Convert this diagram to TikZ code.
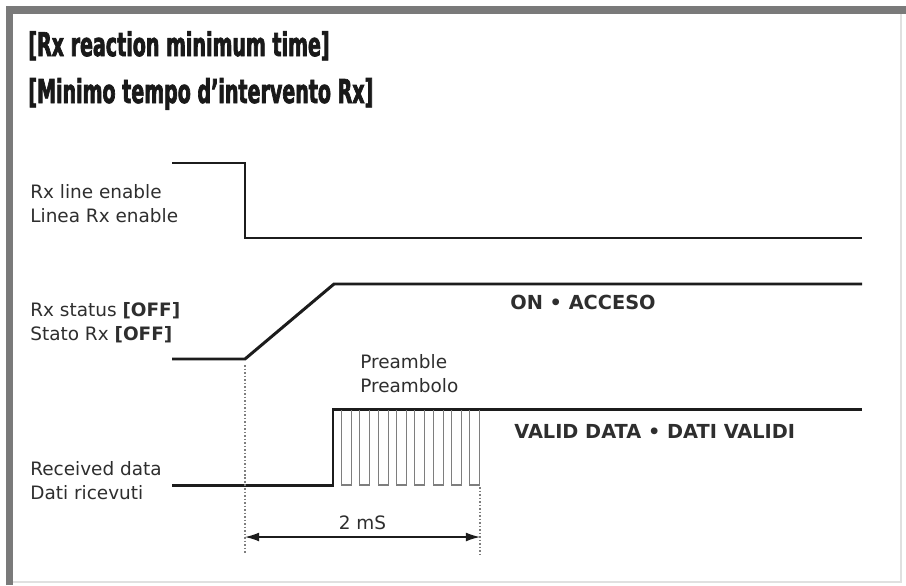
\documentclass[tikz,border=0pt]{standalone}
\usepackage{fontspec}
\setmainfont{DejaVu Sans}
\newfontfamily\titlefont[FakeStretch=0.58,FakeBold=2]{DejaVu Sans}
\usetikzlibrary{arrows.meta,positioning}
\definecolor{ink}{HTML}{2E2E2E}
\definecolor{wave}{HTML}{1C1C1C}
\definecolor{framegray}{HTML}{7A7A7A}
\definecolor{edgegray}{HTML}{E0E0E0}
\definecolor{pulsegray}{HTML}{7E7E7E}

\begin{document}
\begin{tikzpicture}[
  x=.02cm,y=-.02cm,
  line cap=butt,line join=miter,
  label/.style={anchor=base west,inner sep=0pt,text=ink,align=left,
                font=\fontsize{10.5}{13.4}\selectfont},
  tag/.style={anchor=base west,inner sep=0pt,text=ink,
              font=\fontsize{11}{13.4}\selectfont\bfseries},
  title/.style={anchor=base west,inner sep=0pt,text=black!90,align=left,
                font=\titlefont\bfseries\fontsize{18.7}{26.7}\selectfont},
  signal/.style={line width=1.7pt,draw=wave},
  pulse/.style={line width=.6pt,draw=pulsegray},
  guide/.style={line width=.8pt,draw=pulsegray,dash pattern=on .9pt off 1.1pt},
  dim/.style={{Latex[length=8pt,width=5pt]}-{Latex[length=8pt,width=5pt]},
              line width=.7pt,draw=wave}
]
\useasboundingbox (0,0) rectangle (906,585);
\fill[white] (0,0) rectangle (906,585);
\draw[edgegray,line width=1pt] (9.5,10) rectangle (901,582);
\draw[framegray,line width=4.3pt] (9.5,585) -- (9.5,10) -- (906,10);

% multi-line nodes: base = baseline of last line
\node[title] (title) at (28,103)
  {[Rx reaction minimum time]\\{[Minimo tempo d’intervento Rx]}};

% signal labels
\node[label] (enable) at (30,222) {Rx line enable\\Linea Rx enable};
\node[label] (status) at (30,340) {Rx status \textbf{[OFF]}\\Stato Rx \textbf{[OFF]}};
\node[label] (rxdata) at (30,499) {Received data\\Dati ricevuti};

% waveforms
\draw[signal] (172,163) -- (245,163) -- (245,238) -- (862,238);
\draw[signal] (172,359) -- (245,359) -- (334,284) -- (862,284);
\draw[signal] (172,485) -- (333,485) -- (333,409) -- (862,409);
\foreach \k in {0,...,7}{
  \draw[pulse] ({341.5+18.35*\k},410) -- ++(0,75) -- ++(10,0) -- ++(0,-75);
}

\node[tag] (acceso) at (510,309) {ON • ACCESO};
\node[tag] (valid) at (514,438) {VALID DATA • DATI VALIDI};
\node[label] (preamble) at (360,392) {Preamble\\Preambolo};

% timing
\coordinate (t0) at (245,537);
\coordinate (t1) at (480,537);
\draw[guide] (245,365) -- ([yshift=-10]t0);
\draw[guide] (480,487) -- ([yshift=-10]t1);
\draw[dim] (t0) -- node[above=4pt,inner sep=0pt,text=ink,
  font=\fontsize{10.5}{13}\selectfont] (span) {2 mS} (t1);
\end{tikzpicture}
\end{document}
